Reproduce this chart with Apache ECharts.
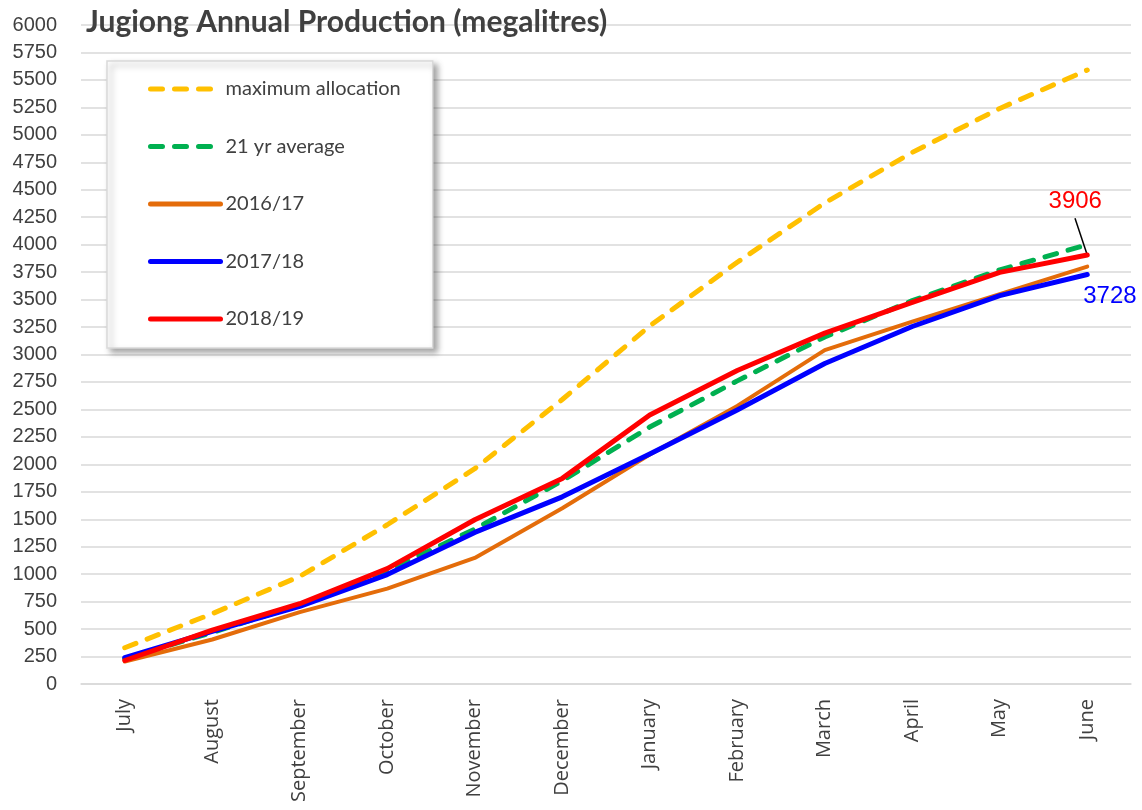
<!DOCTYPE html>
<html>
<head>
<meta charset="utf-8">
<script src="https://cdn.jsdelivr.net/npm/echarts@6/dist/echarts.min.js"></script>
<style>
html,body{margin:0;padding:0;background:#fff;}
#chart{width:1142px;height:810px;}
</style>
</head>
<body>
<div id="chart"></div>
<script>
var months = ['July','August','September','October','November','December','January','February','March','April','May','June'];
var yTicks = [0, 6000, 250];
var maxAllocation = [330, 640, 980, 1450, 1960, 2590, 3260, 3840, 4380, 4840, 5240, 5590];
var avg21yr = [230, 470, 720, 1030, 1410, 1850, 2340, 2760, 3160, 3490, 3770, 4000];
var y2016_17 = [205, 405, 655, 868, 1148, 1600, 2090, 2532, 3040, 3300, 3550, 3800];
var y2017_18 = [240, 480, 707, 996, 1380, 1704, 2094, 2495, 2918, 3255, 3536, 3728];
var y2018_19 = [214, 490, 731, 1050, 1495, 1872, 2450, 2854, 3195, 3475, 3748, 3906];
// leader line for the 3906 callout, in data coordinates (month index, value)
var leaderLine = [[11, 3906], [10.86, 4240]];

var chart = echarts.init(document.getElementById('chart'), null, {renderer:'canvas'});

function lastLabelData(arr, labelOpt) {
  return arr.map(function(v, i){
    if (i === arr.length - 1) return {value: v, label: labelOpt};
    return v;
  });
}

var option = {
  backgroundColor: '#ffffff',
  animation: false,
  title: {
    text: 'Jugiong Annual Production (megalitres)',
    left: 81, top: 2,
    textStyle: {fontFamily: 'Lato', fontWeight: 'bold', fontSize: 30, color: '#404040'}
  },
  legend: {
    orient: 'vertical',
    left: 107, top: 61,
    padding: [18, 32, 19, 41],
    itemGap: 37.5,
    itemWidth: 70,
    itemHeight: 2,
    backgroundColor: '#ffffff',
    borderColor: '#d9d9d9',
    borderWidth: 1.5,
    shadowBlur: 6,
    shadowOffsetX: 4,
    shadowOffsetY: 4,
    shadowColor: 'rgba(0,0,0,0.35)',
    itemStyle: {opacity: 0},
    lineStyle: {width: 5, cap: 'round'},
    textStyle: {fontFamily: 'Lato', fontSize: 20, color: '#404040', lineHeight: 20},
    data: ['maximum allocation', '21 yr average', '2016/17', '2017/18', '2018/19']
  },
  grid: {left: 81, right: 11, top: 25, bottom: 126, containLabel: false},
  xAxis: [{
    type: 'category',
    data: months,
    boundaryGap: true,
    axisLine: {show: true, lineStyle: {color: '#d9d9d9', width: 1.5}},
    axisTick: {show: false},
    axisLabel: {rotate: 90, fontFamily: 'Open Sans', fontSize: 20, color: '#404040', margin: 15}
  }, {
    type: 'value',
    min: -0.5, max: months.length - 0.5,
    show: false
  }],
  yAxis: {
    type: 'value',
    min: yTicks[0], max: yTicks[1], interval: yTicks[2],
    axisLine: {show: false},
    axisTick: {show: false},
    splitLine: {lineStyle: {color: '#d9d9d9', width: 1.5}},
    axisLabel: {fontFamily: 'Liberation Sans', fontSize: 20, color: '#404040', margin: 24,
      formatter: function(v){ return String(v); }}
  },
  series: [
    {
      name: 'maximum allocation', type: 'line', data: maxAllocation,
      symbol: 'none',
      lineStyle: {color: '#FFC000', width: 5, type: [12, 12], cap: 'round'},
      itemStyle: {color: '#FFC000'}
    },
    {
      name: '21 yr average', type: 'line', data: avg21yr,
      symbol: 'none',
      lineStyle: {color: '#00B050', width: 5, type: [12, 12], cap: 'round'},
      itemStyle: {color: '#00B050'}
    },
    {
      name: '2016/17', type: 'line', data: y2016_17,
      symbol: 'none',
      lineStyle: {color: '#E46C0A', width: 4, cap: 'round', join: 'round'},
      itemStyle: {color: '#E46C0A'}
    },
    {
      name: '2017/18', type: 'line', data: y2017_18,
      symbol: 'none',
      lineStyle: {color: '#0000FF', width: 5, cap: 'round', join: 'round'},
      itemStyle: {color: '#0000FF'},
      endLabel: {show: true, formatter: '{c}', offset: [-12, 22],
        color: '#0000FF', fontFamily: 'Liberation Sans', fontSize: 24}
    },
    {
      name: 'leader', type: 'line', xAxisIndex: 1,
      data: leaderLine,
      symbol: 'none', silent: true,
      lineStyle: {color: '#000000', width: 1.5},
      z: 1
    },
    {
      name: '2018/19', type: 'line',
      data: lastLabelData(y2018_19, {
        show: true, position: 'top', formatter: '{c}', offset: [-12, -37],
        color: '#FF0000', fontFamily: 'Liberation Sans', fontSize: 24
      }),
      symbol: 'circle', symbolSize: 0, showSymbol: true,
      lineStyle: {color: '#FF0000', width: 5, cap: 'round', join: 'round'},
      itemStyle: {color: '#FF0000'},
      z: 3
    }
  ]
};
chart.setOption(option);
</script>
</body>
</html>
